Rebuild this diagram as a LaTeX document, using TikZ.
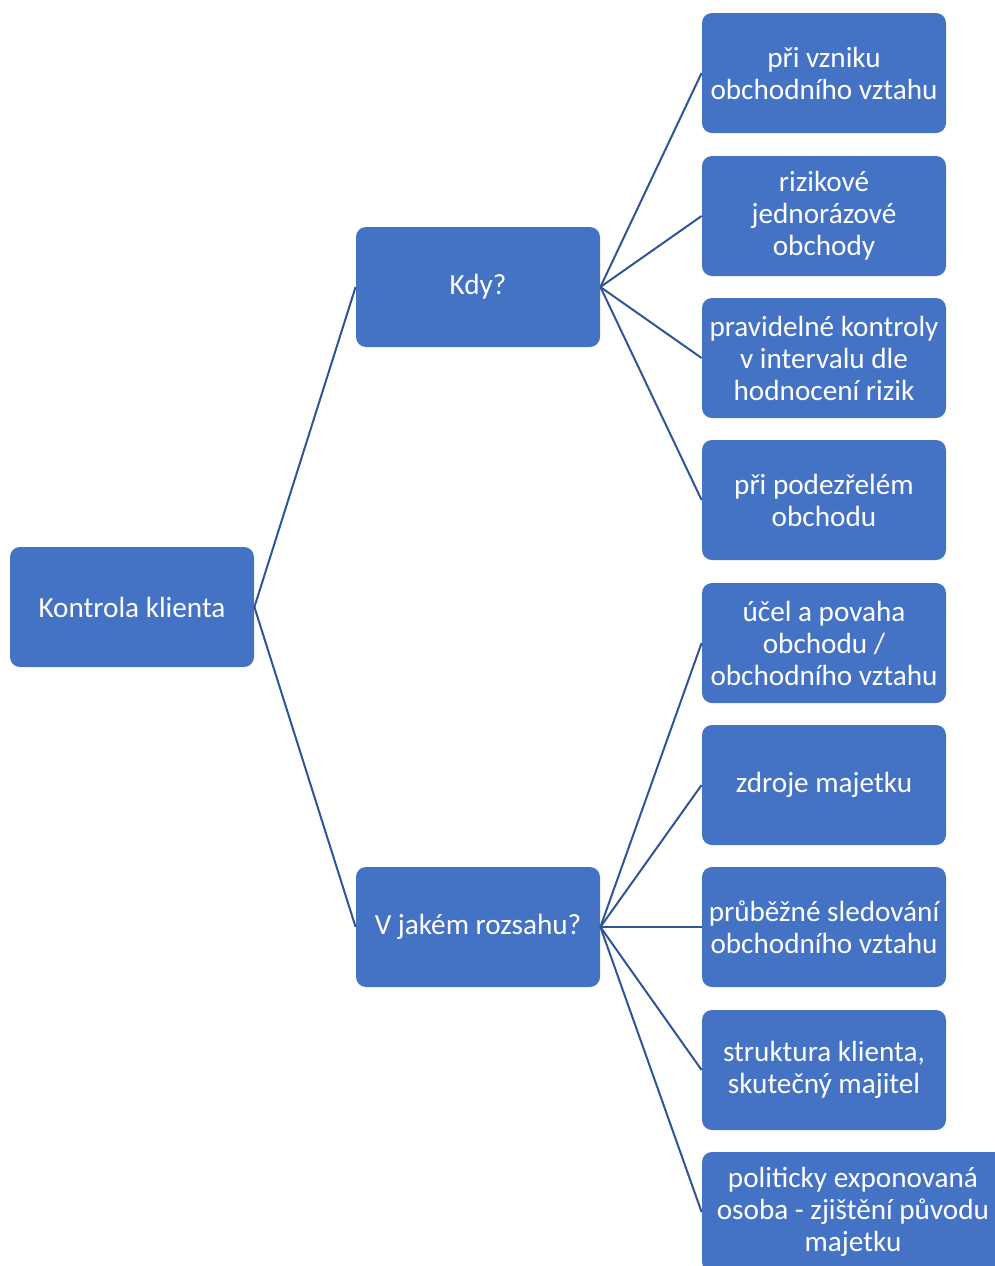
\documentclass[tikz,border=0pt]{standalone}
\usepackage{fontspec}
\setmainfont{Carlito}
\usepackage{xcolor}
\definecolor{boxblue}{RGB}{68,114,196}
\definecolor{lineblue}{RGB}{47,85,151}

\begin{document}
\begin{tikzpicture}[x=0.5pt,y=-0.5pt,
	box/.style={fill=boxblue,text=white,rounded corners=5pt,minimum width=122pt,minimum height=60pt,align=center,inner sep=1pt,font=\fontsize{14.6}{16}\selectfont},
	link/.style={draw=lineblue,line width=1pt}]
	\useasboundingbox(0,0)rectangle(995,1266);
	\node[box](root)at(132,607){Kontrola klienta};
	\node[box](kdy)at(478,287){Kdy?};
	\node[box](rozsah)at(478,927){V jakém rozsahu?};
	\node[box](k1)at(824,73){při vzniku\\obchodního vztahu};
	\node[box](k2)at(824,216){rizikové\\jednorázové\\obchody};
	\node[box](k3)at(824,358){pravidelné kontroly\\v intervalu dle\\hodnocení rizik};
	\node[box](k4)at(824,500){při podezřelém\\obchodu};
	\node[box](r1)at(824,643){účel a povaha\\obchodu /\\obchodního vztahu};
	\node[box](r2)at(824,785){zdroje majetku};
	\node[box](r3)at(824,927){průběžné sledování\\obchodního vztahu};
	\node[box](r4)at(824,1070){struktura klienta,\\skutečný majitel};
	\node[box,minimum width=151pt](r5)at(853,1212){politicky exponovaná\\osoba - zjištění původu\\majetku};
	\draw[link](root.east)--(kdy.west);
	\draw[link](root.east)--(rozsah.west);
	\foreach \n in {k1,k2,k3,k4}
		\draw[link](kdy.east)--(\n.west);
	\foreach \n in {r1,r2,r3,r4}
		\draw[link](rozsah.east)--(\n.west);
	\draw[link](rozsah.east)--(r5.west);
\end{tikzpicture}
\end{document}
